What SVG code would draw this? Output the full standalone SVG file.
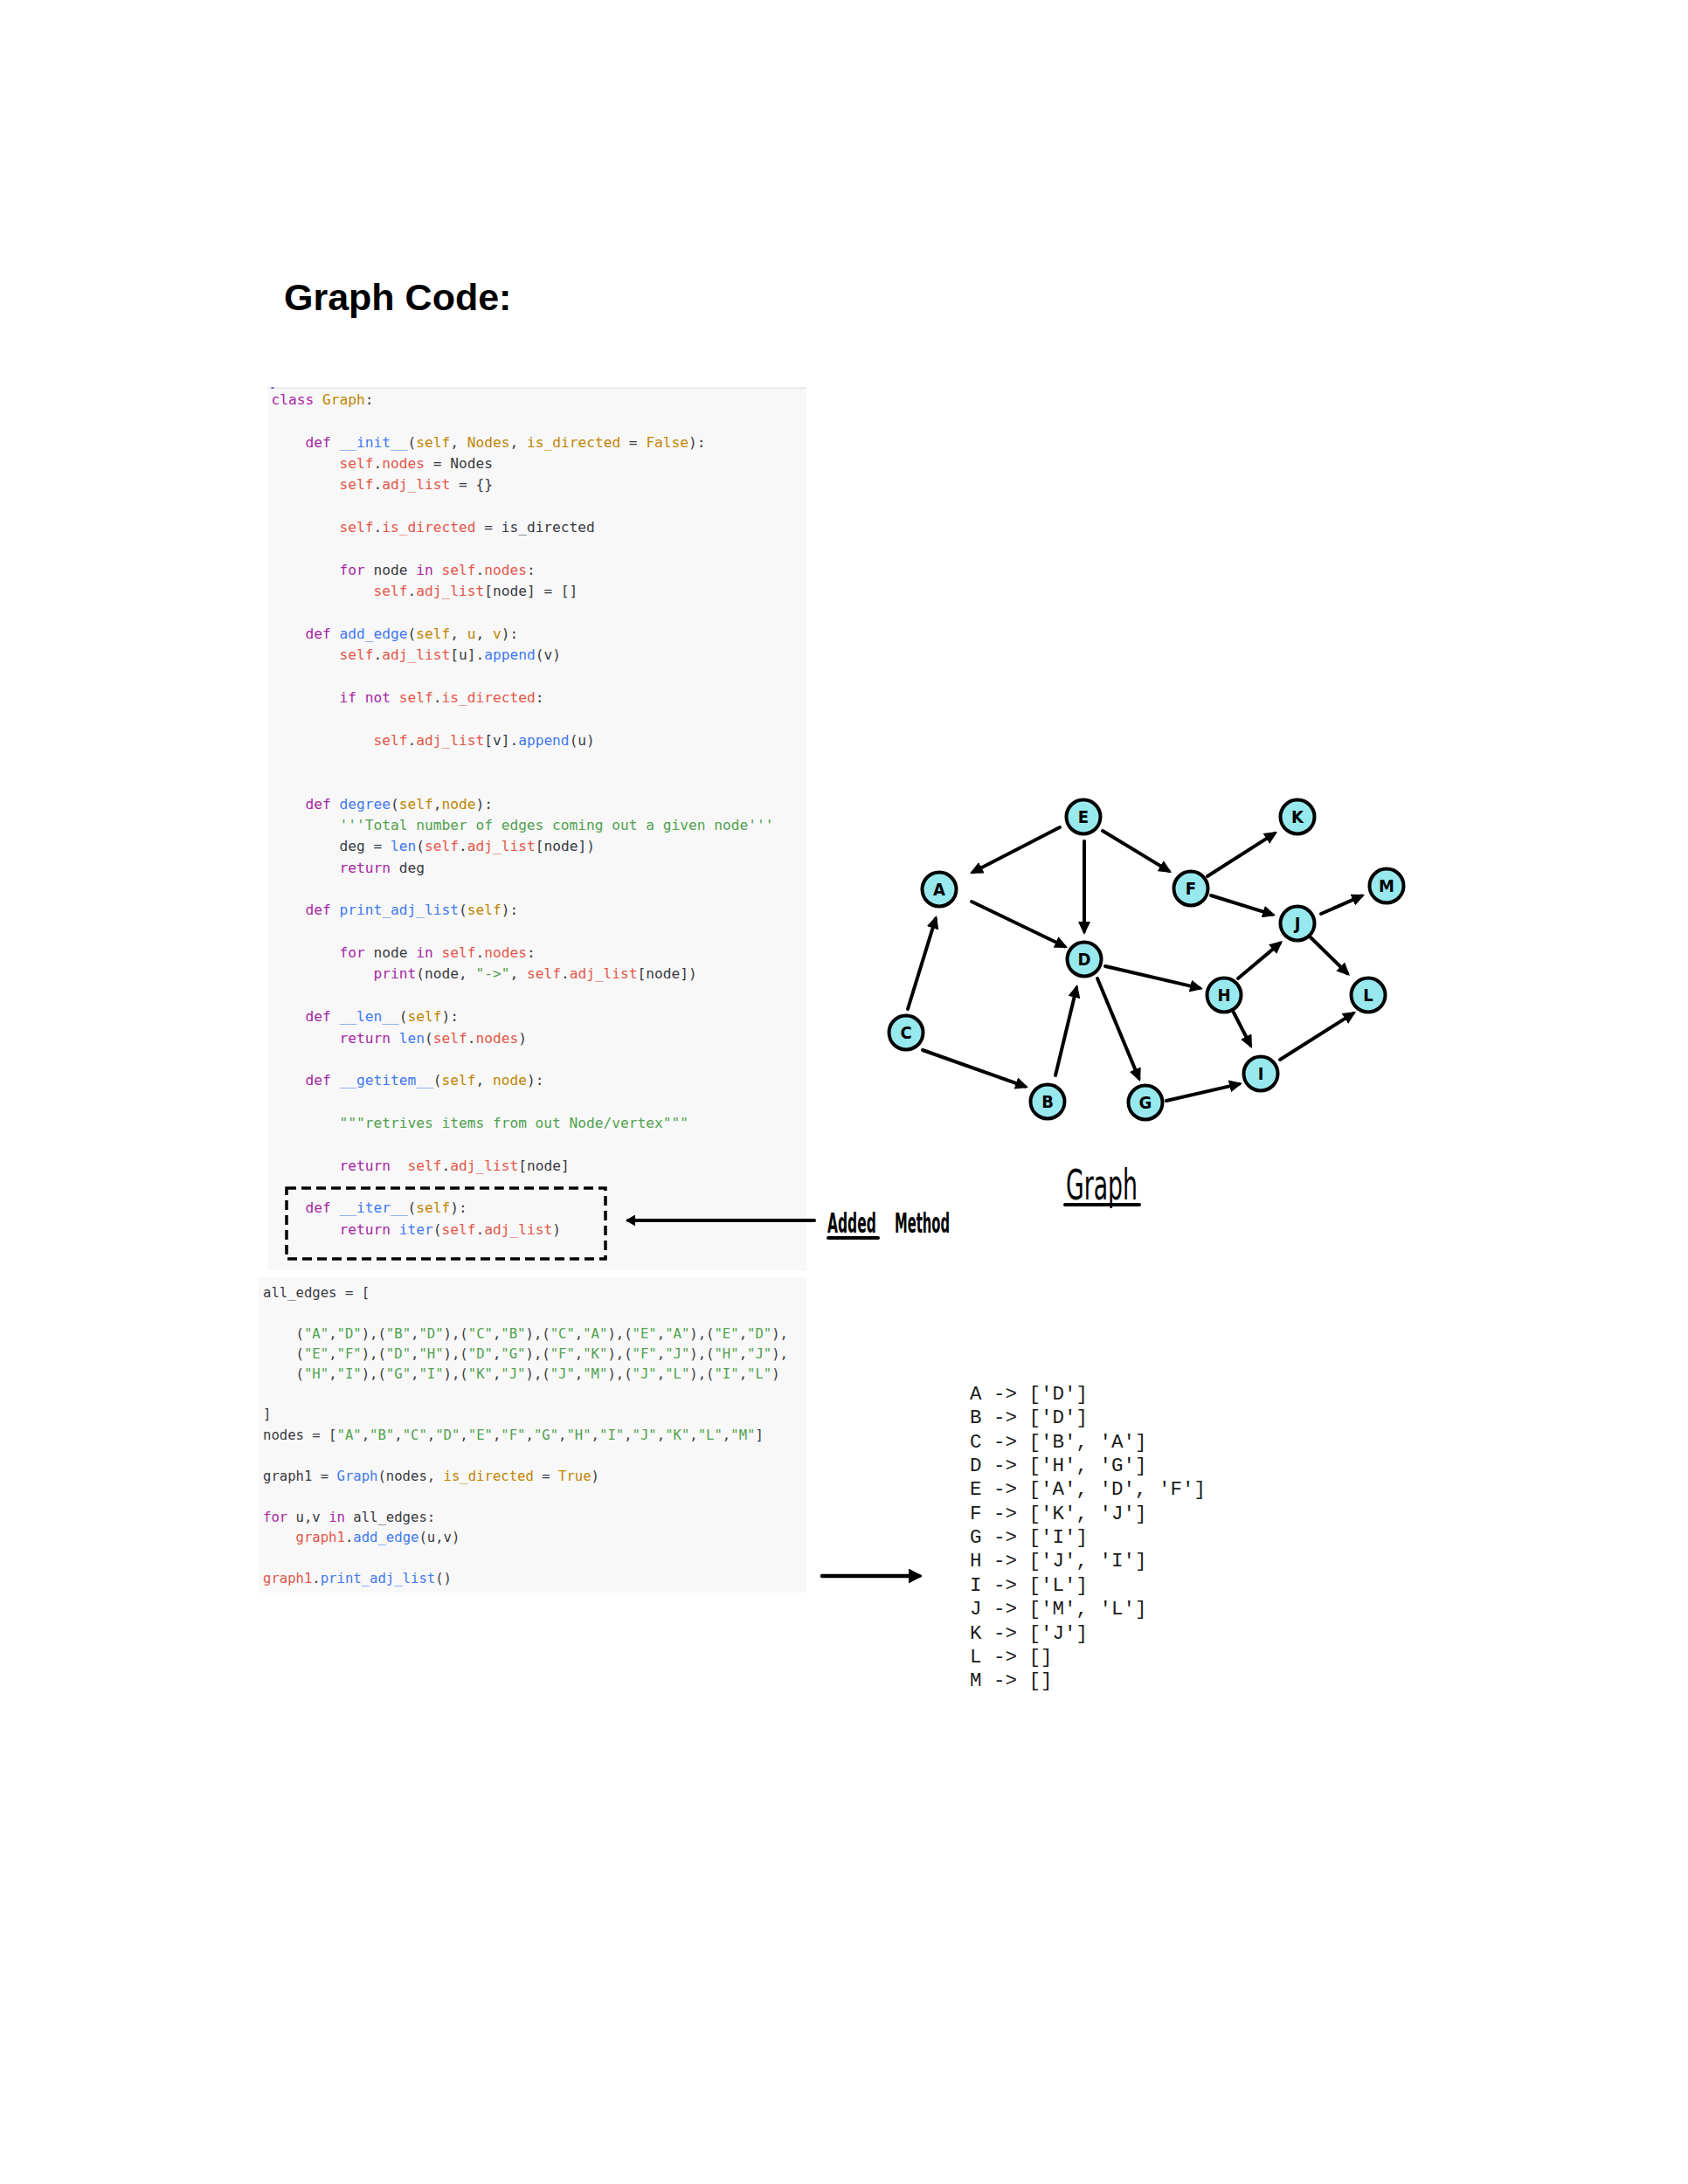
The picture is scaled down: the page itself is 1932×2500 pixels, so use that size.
<svg xmlns="http://www.w3.org/2000/svg" width="1932" height="2500" viewBox="0 0 1932 2500">
<defs>
<style>
.code text{font-family:"DejaVu Sans Mono","Liberation Mono",monospace;fill:#383a42;white-space:pre}
.c1 text{font-size:16.2px}
.c2 text{font-size:15.6px}
.k{fill:#a626a4}.f{fill:#4078f2}.s{fill:#e45649}.p{fill:#c18401}.g{fill:#50a14f}
.node circle{fill:#98e9ee;stroke:#000;stroke-width:4}
.node text{font-family:"DejaVu Sans Condensed","DejaVu Sans",sans-serif;font-weight:bold;font-size:20px;text-anchor:middle;fill:#000}
.edge{stroke:#000;stroke-width:4;fill:none;stroke-linecap:round;marker-end:url(#ah)}
.out text{font-family:"Courier New","Liberation Mono",monospace;font-size:22.5px;fill:#1a1a1a;white-space:pre}
.hand{font-family:"DejaVu Sans Condensed","DejaVu Sans",sans-serif;fill:#000}
</style>
<marker id="ah" viewBox="0 0 15 14" markerWidth="15" markerHeight="14" refX="11" refY="7" orient="auto" markerUnits="userSpaceOnUse"><path d="M0,0 L15,7 L0,14 z" fill="#000"/></marker>
<marker id="ahBig" viewBox="0 0 16 17" markerWidth="16" markerHeight="17" refX="12" refY="8.5" orient="auto" markerUnits="userSpaceOnUse"><path d="M0,0 L16,8.5 L0,17 z" fill="#000"/></marker>
<marker id="ahSmall" viewBox="0 0 11 13" markerWidth="11" markerHeight="13" refX="8" refY="6.5" orient="auto" markerUnits="userSpaceOnUse"><path d="M0,0 L11,6.5 L0,13 z" fill="#000"/></marker>
</defs>
<rect width="1932" height="2500" fill="#fff"/>

<g id="title"><text x="325" y="355" font-family="Liberation Sans, Arial, sans-serif" font-weight="bold" font-size="43" fill="#000">Graph Code:</text></g>

<g id="panel-class">
<rect x="307" y="444" width="616" height="1010" fill="#f8f8f8"/>
<rect x="307" y="443.5" width="616" height="1.5" fill="#e6e6e6"/>
<rect x="310.5" y="443" width="3" height="2" fill="#6b6bd6"/>
<g class="code c1" xml:space="preserve">
<text x="310.5" y="463"><tspan class="k">class</tspan> <tspan class="p">Graph</tspan>:</text>
<text x="310.5" y="511.7">    <tspan class="k">def</tspan> <tspan class="f">__init__</tspan>(<tspan class="p">self</tspan>, <tspan class="p">Nodes</tspan>, <tspan class="p">is_directed</tspan> = <tspan class="p">False</tspan>):</text>
<text x="310.5" y="536.05">        <tspan class="s">self</tspan>.<tspan class="s">nodes</tspan> = Nodes</text>
<text x="310.5" y="560.4">        <tspan class="s">self</tspan>.<tspan class="s">adj_list</tspan> = {}</text>
<text x="310.5" y="609.1">        <tspan class="s">self</tspan>.<tspan class="s">is_directed</tspan> = is_directed</text>
<text x="310.5" y="657.8">        <tspan class="k">for</tspan> node <tspan class="k">in</tspan> <tspan class="s">self</tspan>.<tspan class="s">nodes</tspan>:</text>
<text x="310.5" y="682.15">            <tspan class="s">self</tspan>.<tspan class="s">adj_list</tspan>[node] = []</text>
<text x="310.5" y="730.85">    <tspan class="k">def</tspan> <tspan class="f">add_edge</tspan>(<tspan class="p">self</tspan>, <tspan class="p">u</tspan>, <tspan class="p">v</tspan>):</text>
<text x="310.5" y="755.2">        <tspan class="s">self</tspan>.<tspan class="s">adj_list</tspan>[u].<tspan class="f">append</tspan>(v)</text>
<text x="310.5" y="803.9">        <tspan class="k">if</tspan> <tspan class="k">not</tspan> <tspan class="s">self</tspan>.<tspan class="s">is_directed</tspan>:</text>
<text x="310.5" y="852.6">            <tspan class="s">self</tspan>.<tspan class="s">adj_list</tspan>[v].<tspan class="f">append</tspan>(u)</text>
<text x="310.5" y="925.65">    <tspan class="k">def</tspan> <tspan class="f">degree</tspan>(<tspan class="p">self</tspan>,<tspan class="p">node</tspan>):</text>
<text x="310.5" y="950">        <tspan class="g">'''Total number of edges coming out a given node'''</tspan></text>
<text x="310.5" y="974.35">        deg = <tspan class="f">len</tspan>(<tspan class="s">self</tspan>.<tspan class="s">adj_list</tspan>[node])</text>
<text x="310.5" y="998.7">        <tspan class="k">return</tspan> deg</text>
<text x="310.5" y="1047.4">    <tspan class="k">def</tspan> <tspan class="f">print_adj_list</tspan>(<tspan class="p">self</tspan>):</text>
<text x="310.5" y="1096.1">        <tspan class="k">for</tspan> node <tspan class="k">in</tspan> <tspan class="s">self</tspan>.<tspan class="s">nodes</tspan>:</text>
<text x="310.5" y="1120.45">            <tspan class="k">print</tspan>(node, <tspan class="g">"-&gt;"</tspan>, <tspan class="s">self</tspan>.<tspan class="s">adj_list</tspan>[node])</text>
<text x="310.5" y="1169.15">    <tspan class="k">def</tspan> <tspan class="f">__len__</tspan>(<tspan class="p">self</tspan>):</text>
<text x="310.5" y="1193.5">        <tspan class="k">return</tspan> <tspan class="f">len</tspan>(<tspan class="s">self</tspan>.<tspan class="s">nodes</tspan>)</text>
<text x="310.5" y="1242.2">    <tspan class="k">def</tspan> <tspan class="f">__getitem__</tspan>(<tspan class="p">self</tspan>, <tspan class="p">node</tspan>):</text>
<text x="310.5" y="1290.9">        <tspan class="g">"""retrives items from out Node/vertex"""</tspan></text>
<text x="310.5" y="1339.6">        <tspan class="k">return</tspan>  <tspan class="s">self</tspan>.<tspan class="s">adj_list</tspan>[node]</text>
<text x="310.5" y="1388.3">    <tspan class="k">def</tspan> <tspan class="f">__iter__</tspan>(<tspan class="p">self</tspan>):</text>
<text x="310.5" y="1412.65">        <tspan class="k">return</tspan> <tspan class="f">iter</tspan>(<tspan class="s">self</tspan>.<tspan class="s">adj_list</tspan>)</text>
</g>
<rect x="328" y="1360" width="365" height="81" fill="none" stroke="#000" stroke-width="3.5" stroke-dasharray="11,6"/>
</g>

<g id="panel-usage">
<rect x="296" y="1462" width="627" height="361" fill="#f8f8f8"/>
<g class="code c2" xml:space="preserve">
<text x="301" y="1485">all_edges = [</text>
<text x="301" y="1531.66">    (<tspan class="g">"A"</tspan>,<tspan class="g">"D"</tspan>),(<tspan class="g">"B"</tspan>,<tspan class="g">"D"</tspan>),(<tspan class="g">"C"</tspan>,<tspan class="g">"B"</tspan>),(<tspan class="g">"C"</tspan>,<tspan class="g">"A"</tspan>),(<tspan class="g">"E"</tspan>,<tspan class="g">"A"</tspan>),(<tspan class="g">"E"</tspan>,<tspan class="g">"D"</tspan>),</text>
<text x="301" y="1555">    (<tspan class="g">"E"</tspan>,<tspan class="g">"F"</tspan>),(<tspan class="g">"D"</tspan>,<tspan class="g">"H"</tspan>),(<tspan class="g">"D"</tspan>,<tspan class="g">"G"</tspan>),(<tspan class="g">"F"</tspan>,<tspan class="g">"K"</tspan>),(<tspan class="g">"F"</tspan>,<tspan class="g">"J"</tspan>),(<tspan class="g">"H"</tspan>,<tspan class="g">"J"</tspan>),</text>
<text x="301" y="1578.3">    (<tspan class="g">"H"</tspan>,<tspan class="g">"I"</tspan>),(<tspan class="g">"G"</tspan>,<tspan class="g">"I"</tspan>),(<tspan class="g">"K"</tspan>,<tspan class="g">"J"</tspan>),(<tspan class="g">"J"</tspan>,<tspan class="g">"M"</tspan>),(<tspan class="g">"J"</tspan>,<tspan class="g">"L"</tspan>),(<tspan class="g">"I"</tspan>,<tspan class="g">"L"</tspan>)</text>
<text x="301" y="1624">]</text>
<text x="301" y="1648.3">nodes = [<tspan class="g">"A"</tspan>,<tspan class="g">"B"</tspan>,<tspan class="g">"C"</tspan>,<tspan class="g">"D"</tspan>,<tspan class="g">"E"</tspan>,<tspan class="g">"F"</tspan>,<tspan class="g">"G"</tspan>,<tspan class="g">"H"</tspan>,<tspan class="g">"I"</tspan>,<tspan class="g">"J"</tspan>,<tspan class="g">"K"</tspan>,<tspan class="g">"L"</tspan>,<tspan class="g">"M"</tspan>]</text>
<text x="301" y="1695">graph1 = <tspan class="f">Graph</tspan>(nodes, <tspan class="p">is_directed</tspan> = <tspan class="p">True</tspan>)</text>
<text x="301" y="1741.6"><tspan class="k">for</tspan> u,v <tspan class="k">in</tspan> all_edges:</text>
<text x="301" y="1765">    <tspan class="s">graph1</tspan>.<tspan class="f">add_edge</tspan>(u,v)</text>
<text x="301" y="1811.6"><tspan class="s">graph1</tspan>.<tspan class="f">print_adj_list</tspan>()</text>
</g>
</g>

<g id="label-added-method">
<text class="hand" transform="translate(947,1411) scale(0.6,1)" x="0" y="0" font-size="32" font-weight="bold" textLength="93" lengthAdjust="spacingAndGlyphs">Added</text>
<text class="hand" transform="translate(1024,1411) scale(0.6,1)" x="0" y="0" font-size="32" font-weight="bold" textLength="105" lengthAdjust="spacingAndGlyphs">Method</text>
<line x1="948" y1="1417" x2="1005" y2="1417" stroke="#000" stroke-width="4" stroke-linecap="round"/>
</g>

<g id="label-graph">
<text class="hand" transform="translate(1220,1373) scale(0.65,1)" x="0" y="0" font-size="48" textLength="126" lengthAdjust="spacingAndGlyphs">Graph</text>
<line x1="1219" y1="1379" x2="1304" y2="1379" stroke="#000" stroke-width="4" stroke-linecap="round"/>
</g>

<g id="connectors">
<line x1="932" y1="1397" x2="719" y2="1397" stroke="#000" stroke-width="4" stroke-linecap="round" marker-end="url(#ahSmall)"/>
<line x1="941" y1="1804" x2="1052" y2="1804" stroke="#000" stroke-width="4.5" stroke-linecap="round" marker-end="url(#ahBig)"/>
<line class="edge" x1="1213" y1="947" x2="1113.6" y2="998.2"/>
<line class="edge" x1="1241" y1="963" x2="1241" y2="1066"/>
<line class="edge" x1="1262" y1="951" x2="1337.6" y2="996.9"/>
<line class="edge" x1="1112" y1="1032" x2="1218.4" y2="1083.3"/>
<line class="edge" x1="1039" y1="1155" x2="1070.8" y2="1051.8"/>
<line class="edge" x1="1056" y1="1202" x2="1173.2" y2="1243.7"/>
<line class="edge" x1="1208" y1="1231" x2="1232.1" y2="1130.9"/>
<line class="edge" x1="1256" y1="1120" x2="1303.5" y2="1234.3"/>
<line class="edge" x1="1265" y1="1106" x2="1373.1" y2="1131.1"/>
<line class="edge" x1="1382" y1="1003" x2="1458.6" y2="954.1"/>
<line class="edge" x1="1386" y1="1025" x2="1456.2" y2="1046.8"/>
<line class="edge" x1="1512" y1="1046" x2="1558.3" y2="1025.6"/>
<line class="edge" x1="1500" y1="1073" x2="1542.1" y2="1114.2"/>
<line class="edge" x1="1417" y1="1120" x2="1465" y2="1079.6"/>
<line class="edge" x1="1412" y1="1159" x2="1431.2" y2="1196.4"/>
<line class="edge" x1="1335" y1="1260" x2="1418.1" y2="1240.9"/>
<line class="edge" x1="1465" y1="1213" x2="1548.6" y2="1160.1"/>
</g>

<g id="node-E" class="node"><circle cx="1240" cy="935" r="19.5"/><text x="1240" y="942">E</text></g>
<g id="node-A" class="node"><circle cx="1075" cy="1018" r="19.5"/><text x="1075" y="1025">A</text></g>
<g id="node-D" class="node"><circle cx="1241" cy="1098" r="19.5"/><text x="1241" y="1105">D</text></g>
<g id="node-C" class="node"><circle cx="1037" cy="1182" r="19.5"/><text x="1037" y="1189">C</text></g>
<g id="node-B" class="node"><circle cx="1199" cy="1261" r="19.5"/><text x="1199" y="1268">B</text></g>
<g id="node-G" class="node"><circle cx="1311" cy="1262" r="19.5"/><text x="1311" y="1269">G</text></g>
<g id="node-K" class="node"><circle cx="1485" cy="935" r="19.5"/><text x="1485" y="942">K</text></g>
<g id="node-F" class="node"><circle cx="1363" cy="1017" r="19.5"/><text x="1363" y="1024">F</text></g>
<g id="node-M" class="node"><circle cx="1587" cy="1014" r="19.5"/><text x="1587" y="1021">M</text></g>
<g id="node-J" class="node"><circle cx="1485" cy="1057" r="19.5"/><text x="1485" y="1064">J</text></g>
<g id="node-H" class="node"><circle cx="1401" cy="1139" r="19.5"/><text x="1401" y="1146">H</text></g>
<g id="node-L" class="node"><circle cx="1566" cy="1139" r="19.5"/><text x="1566" y="1146">L</text></g>
<g id="node-I" class="node"><circle cx="1443" cy="1229" r="19.5"/><text x="1443" y="1236">I</text></g>

<g id="output" class="out" xml:space="preserve">
<text x="1110" y="1602">A -&gt; ['D']</text>
<text x="1110" y="1629.35">B -&gt; ['D']</text>
<text x="1110" y="1656.7">C -&gt; ['B', 'A']</text>
<text x="1110" y="1684.05">D -&gt; ['H', 'G']</text>
<text x="1110" y="1711.4">E -&gt; ['A', 'D', 'F']</text>
<text x="1110" y="1738.75">F -&gt; ['K', 'J']</text>
<text x="1110" y="1766.1">G -&gt; ['I']</text>
<text x="1110" y="1793.45">H -&gt; ['J', 'I']</text>
<text x="1110" y="1820.8">I -&gt; ['L']</text>
<text x="1110" y="1848.15">J -&gt; ['M', 'L']</text>
<text x="1110" y="1875.5">K -&gt; ['J']</text>
<text x="1110" y="1902.85">L -&gt; []</text>
<text x="1110" y="1930.2">M -&gt; []</text>
</g>
</svg>
